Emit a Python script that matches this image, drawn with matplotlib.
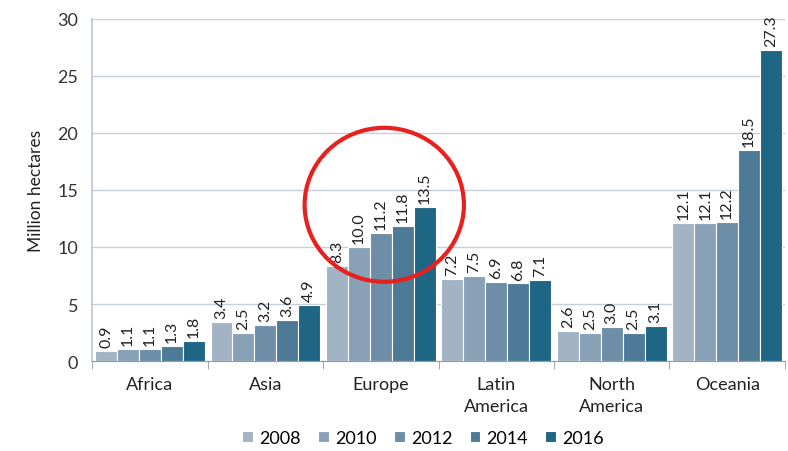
import numpy as np
import matplotlib
matplotlib.use("Agg")
import matplotlib.pyplot as plt
from matplotlib.patches import Ellipse

plt.rcParams['font.family'] = ['Lato', 'DejaVu Sans']

regions = ["Africa", "Asia", "Europe", "Latin\nAmerica", "North\nAmerica", "Oceania"]
years = ["2008", "2010", "2012", "2014", "2016"]
v2008 = [0.9, 3.4, 8.3, 7.2, 2.6, 12.1]
v2010 = [1.1, 2.5, 10.0, 7.5, 2.5, 12.1]
v2012 = [1.1, 3.2, 11.2, 6.9, 3.0, 12.2]
v2014 = [1.3, 3.6, 11.8, 6.8, 2.5, 18.5]
v2016 = [1.8, 4.9, 13.5, 7.1, 3.1, 27.3]
series = [v2008, v2010, v2012, v2014, v2016]
colors = ["#a2b3c5", "#89a1b6", "#6e8ea7", "#4c7a97", "#1f6584"]

fig = plt.figure(figsize=(7.88, 4.52), dpi=100)
ax = fig.add_axes([0.117, 0.199, 0.879, 0.757])

x = np.arange(len(regions))
w = 0.19
for i, (vals, c, yr) in enumerate(zip(series, colors, years)):
    pos = x + (i - 2) * w
    ax.bar(pos, vals, width=w, color=c, edgecolor="white", linewidth=0.8, label=yr, zorder=3)
    for p, v in zip(pos, vals):
        ax.text(p, v + 0.35, f"{v:.1f}", rotation=90, ha="center", va="bottom",
                fontsize=11.5, color="#222222", zorder=4)

ax.set_xlim(-0.5, 5.5)
ax.set_ylim(0, 30)
ax.set_yticks(range(0, 31, 5))
ax.yaxis.grid(True, color="#c5d0dc", linewidth=1, zorder=0)
ax.set_axisbelow(True)
for s in ["top", "right"]:
    ax.spines[s].set_visible(False)
ax.spines["left"].set_color("#b8c6d4")
ax.spines["left"].set_linewidth(1.2)
ax.spines["bottom"].set_color("#999999")
ax.tick_params(axis="y", length=0, labelsize=13, pad=10, colors="#333333")

ax.set_xticks(x)
ax.set_xticklabels(regions, fontsize=13, color="#222222", linespacing=1.45)
ax.tick_params(axis="x", which="major", length=0, pad=11)
ax.set_xticks(np.arange(-0.5, 6.0, 1.0), minor=True)
ax.tick_params(axis="x", which="minor", length=6, color="#999999", direction="out")
ax.set_ylabel("Million hectares", fontsize=12.5, color="#222222", labelpad=10)

circle = Ellipse((2.03, 13.7), width=1.38, height=13.5, transform=ax.transData,
                 fill=False, edgecolor="#e8201e", linewidth=3, zorder=5, clip_on=False)
ax.add_patch(circle)

fig.legend(loc="lower center", bbox_to_anchor=(0.537, -0.025), ncol=5, frameon=False,
           fontsize=13, handlelength=0.6, handleheight=0.6, handletextpad=0.35,
           columnspacing=0.95)

fig.savefig("out.png", dpi=100)
